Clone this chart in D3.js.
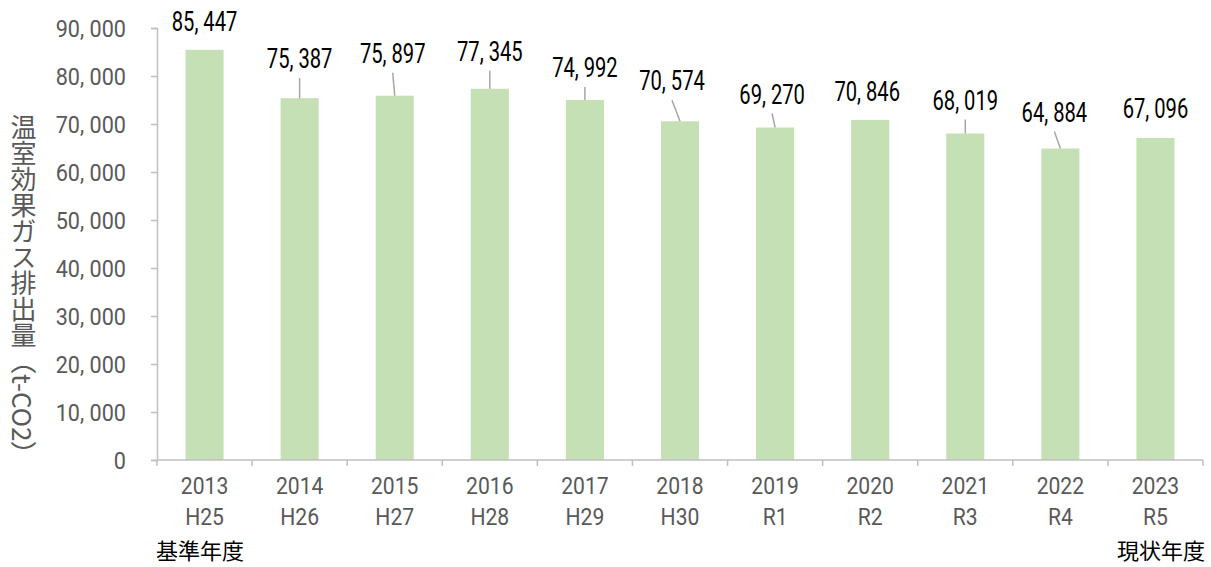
<html>
<head>
<meta charset="utf-8">
<script src="https://cdnjs.cloudflare.com/ajax/libs/d3/7.8.5/d3.min.js"></script>
<style>
  body { margin: 0; background: #fff; }
</style>
</head>
<body>
<div id="chart"></div>
<script>
// data
var years = ["2013", "2014", "2015", "2016", "2017", "2018", "2019", "2020", "2021", "2022", "2023"];
var eras = ["H25", "H26", "H27", "H28", "H29", "H30", "R1", "R2", "R3", "R4", "R5"];
var emissions = [85447, 75387, 75897, 77345, 74992, 70574, 69270, 70846, 68019, 64884, 67096];
var yTicks = [0, 10000, 20000, 30000, 40000, 50000, 60000, 70000, 80000, 90000];

// label placement (px from bar top / bar centre), like the hand-moved labels in the original
var labelDy = [-29, -40, -43, -38, -33, -41, -34, -29, -34, -37, -30];
var labelDx = [0, 0, -2, 0, 0, -8, -3, -3, 0, -6, 0];

var W = 1211, H = 567;
var svg = d3.select("#chart").append("svg").attr("width", W).attr("height", H);

var x = d3.scaleBand().domain(years).range([157, 1203]).paddingInner(0.6).paddingOuter(0.3);
var y = d3.scaleLinear().domain([0, 90000]).range([460, 28]);

var fmt = function (v) { return d3.format(",")(v).replace(",", ", "); };
var axisCol = "#bfbfbf", textCol = "#595959";

// bars
svg.selectAll("rect.bar")
  .data(emissions)
  .enter()
  .append("rect")
    .attr("class", "bar")
    .attr("x", function (d, i) { return x(years[i]); })
    .attr("y", function (d) { return y(d); })
    .attr("width", x.bandwidth())
    .attr("height", function (d) { return y(0) - y(d); })
    .attr("fill", "#c5e0b4");

// axes
var yAxis = svg.append("g").attr("transform", "translate(157,0)")
  .call(d3.axisLeft(y).tickValues(yTicks).tickSize(6).tickPadding(0).tickFormat(""));
var xAxis = svg.append("g").attr("transform", "translate(0,460)")
  .call(d3.axisBottom(x).tickSize(0).tickFormat(""));
[yAxis, xAxis].forEach(function (g) {
  g.selectAll("path, line").attr("stroke", axisCol).attr("stroke-width", 1.5);
});
xAxis.select("path").attr("d", "M157,0H1203");

// x ticks sit on the category boundaries
var step = x.step();
svg.selectAll("line.xt")
  .data(d3.range(years.length + 1))
  .enter()
  .append("line")
    .attr("x1", function (i) { return 157 + i * step; })
    .attr("x2", function (i) { return 157 + i * step; })
    .attr("y1", 460).attr("y2", 466)
    .attr("stroke", axisCol).attr("stroke-width", 1.5);

// y tick labels
svg.selectAll("text.yt")
  .data(yTicks)
  .enter()
  .append("text")
    .attr("transform", function (d) { return "translate(126," + (y(d) + 8.5) + ") scale(0.9,1)"; })
    .attr("text-anchor", "end")
    .style("font-family", "Roboto, sans-serif")
    .style("font-size", "24px")
    .attr("fill", textCol)
    .text(function (d) { return d === 0 ? "0" : fmt(d); });

// x labels (two lines)
var xl = svg.selectAll("g.xl")
  .data(years)
  .enter()
  .append("g")
    .attr("transform", function (d) { return "translate(" + (x(d) + x.bandwidth() / 2) + ",0) scale(0.88,1)"; });
xl.append("text").attr("y", 494).text(function (d) { return d; });
xl.append("text").attr("y", 525).text(function (d, i) { return eras[i]; });
xl.selectAll("text")
  .attr("text-anchor", "middle")
  .style("font-family", "Roboto, sans-serif")
  .style("font-size", "24px")
  .attr("fill", textCol);

// data labels + leader lines
emissions.forEach(function (v, i) {
  var bx = x(years[i]) + x.bandwidth() / 2, by = y(v);
  var lx = bx + labelDx[i], ly = by + labelDy[i];
  if (by - (ly + 20) > 11) {
    svg.append("line")
      .attr("x1", lx).attr("y1", ly + 20)
      .attr("x2", bx).attr("y2", by)
      .attr("stroke", "#a6a6a6").attr("stroke-width", 1.5);
  }
  svg.append("text")
    .attr("transform", "translate(" + lx + "," + (ly + 10) + ") scale(0.72,1)")
    .attr("text-anchor", "middle")
    .style("font-family", "Roboto, sans-serif")
    .style("font-size", "28px")
    .attr("fill", "#000")
    .text(fmt(v));
});

// y axis title, vertical writing
svg.append("text")
  .attr("x", 23.5).attr("y", 114)
  .style("writing-mode", "vertical-rl")
  .style("font-family", "'Noto Sans CJK JP', sans-serif")
  .style("font-size", "26px")
  .attr("fill", textCol)
  .text("温室効果ガス排出量（t-CO2）");

// base / current year notes
svg.append("text")
  .attr("x", 156).attr("y", 559)
  .style("font-family", "'Noto Sans CJK JP', sans-serif")
  .style("font-size", "22px")
  .attr("fill", "#000")
  .text("基準年度");
svg.append("text")
  .attr("x", 1205).attr("y", 559)
  .attr("text-anchor", "end")
  .style("font-family", "'Noto Sans CJK JP', sans-serif")
  .style("font-size", "22px")
  .attr("fill", "#000")
  .text("現状年度");
</script>
</body>
</html>
